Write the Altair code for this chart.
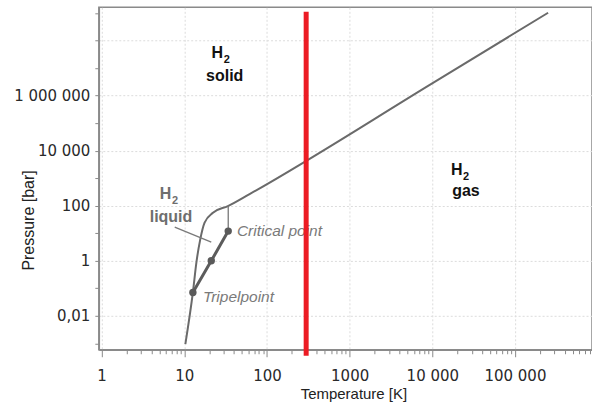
import math
import altair as alt
import pandas as pd

# ---------------- data ----------------
# sublimation / melting curve (gray line)
melt_T = [10.3, 12.7, 14.0, 15.6, 17.6, 22.2, 33.7, 61.6, 10090, 251800]
melt_P = [9.4e-4, 0.0705, 0.86, 6.0, 24.2, 55.7, 97, 265, 2.86e6, 1.03e9]
# vaporization curve (triple point -> boiling point -> critical point)
vap_T = [12.7, 21.2, 34.0]
vap_P = [0.0705, 1.0, 12.0]
# thin vertical line above the critical point
crit_T = [34.0, 34.0]
crit_P = [12.0, 100.0]
# leader line of the "liquid" label
lead_T = [7.66, 21.2]
lead_P = [16.8, 4.8]
# marked points
pt_T = [12.7, 21.2, 34.0]
pt_P = [0.0705, 1.0, 12.0]
# red room-temperature line
room_T = [298]
room_P_top = [1.12e9]
room_P_bottom = [3.55e-4]

# phase labels
phase_names = ["solid", "gas", "liquid"]
phase_colors = ["#111111", "#111111", "#6e6e6e"]
phase_H_T = [29.5, 23200, 6.98]
phase_H_P = [2.3e7, 1360, 169]
phase_name_T = [30.8, 25500, 6.9]
phase_name_P = [3.3e6, 223, 24.8]

# point labels
pt_label = ["Critical point", "Tripelpoint"]
pt_label_T = [43.3, 16.8]
pt_label_P = [7.7, 0.0321]

# axis ticks / labels
x_tick_label_vals = [1, 10, 100, 1000, 10000, 100000]
x_tick_label_txt = ["1", "10", "100", "1000", "10 000", "100 000"]
y_tick_label_vals = [0.01, 1, 100, 10000, 1000000]
y_tick_label_txt = ["0,01", "1", "100", "10 000", "1 000 000"]

x_domain = [0.925, 855000]
y_domain = [5.86e-4, 1.62e9]

# ---------------- chart ----------------
x_ticks = [k * 10 ** d for d in range(0, 6) for k in range(1, 10) if k * 10 ** d <= x_domain[1]]
y_ticks = [10.0 ** e for e in range(-3, 10)]


def label_expr(vals, txts):
    parts = [
        f"abs(log(datum.value)/LN10 - ({math.log10(v)})) < 0.01 ? '{t}'"
        for v, t in zip(vals, txts)
    ]
    return " : ".join(parts) + " : ''"


major_test = "abs(log(datum.value)/LN10 - round(log(datum.value)/LN10)) < 0.01"
even_test = "abs(round(log(datum.value)/LN10)) % 2 == 0"

x_axis = alt.Axis(
    values=x_ticks,
    labelExpr=label_expr(x_tick_label_vals, x_tick_label_txt),
    tickSize={"condition": {"test": major_test, "value": 7}, "value": 4},
    gridOpacity={"condition": {"test": major_test, "value": 1}, "value": 0},
    grid=True,
    labelOverlap=False,
    labelFlush=False,
    labelBaseline="alphabetic",
    labelPadding=24,
    title="Temperature [K]",
    titleX=255,
    titleY=49,
    titleBaseline="alphabetic",
    titleAlign="center",
    titleFontSize=15,
)
y_axis = alt.Axis(
    values=y_ticks,
    labelExpr=label_expr(y_tick_label_vals, y_tick_label_txt),
    tickSize=4,
    gridOpacity={"condition": {"test": even_test, "value": 1}, "value": 0},
    grid=True,
    labelOverlap=False,
    labelFlush=False,
    labelPadding=5,
    title="Pressure [bar]",
    titleX=-70,
    titleY=213,
    titleAngle=-90,
    titleBaseline="middle",
    titleAlign="center",
    titleFontSize=16,
)

xs = alt.Scale(type="log", domain=x_domain, nice=False)
ys = alt.Scale(type="log", domain=y_domain, nice=False)


def X():
    return alt.X("T:Q", scale=xs, axis=x_axis)


def Y():
    return alt.Y("P:Q", scale=ys, axis=y_axis)


def line_df(T, P):
    return pd.DataFrame({"T": T, "P": P, "o": list(range(len(T)))})


melt = alt.Chart(line_df(melt_T, melt_P)).mark_line(
    color="#6a6a6a", strokeWidth=2, interpolate="monotone"
).encode(x=X(), y=Y(), order="o:Q")

vap = alt.Chart(line_df(vap_T, vap_P)).mark_line(
    color="#5c5c5c", strokeWidth=3
).encode(x=X(), y=Y(), order="o:Q")

crit = alt.Chart(line_df(crit_T, crit_P)).mark_line(
    color="#777777", strokeWidth=1.3
).encode(x=X(), y=Y(), order="o:Q")

lead = alt.Chart(line_df(lead_T, lead_P)).mark_line(
    color="#7a7a7a", strokeWidth=1.3
).encode(x=X(), y=Y(), order="o:Q")

pts = alt.Chart(pd.DataFrame({"T": pt_T, "P": pt_P})).mark_circle(
    color="#5a5a5a", size=55, opacity=1
).encode(x=X(), y=Y())

red = alt.Chart(
    pd.DataFrame({"T": room_T, "P": room_P_top, "P2": room_P_bottom})
).mark_rule(color="#ec1c24", strokeWidth=5).encode(x=X(), y=Y(), y2="P2:Q")

hdf = pd.DataFrame({"T": phase_H_T, "P": phase_H_P, "c": phase_colors})
h_txt = alt.Chart(hdf).mark_text(
    text="H", align="right", baseline="alphabetic", font="Liberation Sans",
    fontWeight="bold", fontSize=16
).encode(x=X(), y=Y(), color=alt.Color("c:N", scale=None))
sub_txt = alt.Chart(hdf).mark_text(
    text="2", align="left", baseline="alphabetic", font="Liberation Sans",
    fontWeight="bold", fontSize=11, dy=5, dx=0.5
).encode(x=X(), y=Y(), color=alt.Color("c:N", scale=None))

ndf = pd.DataFrame({"T": phase_name_T, "P": phase_name_P, "c": phase_colors, "t": phase_names})
name_txt = alt.Chart(ndf).mark_text(
    align="center", baseline="alphabetic", font="Liberation Sans",
    fontWeight="bold", fontSize=16
).encode(x=X(), y=Y(), text="t:N", color=alt.Color("c:N", scale=None))

ldf = pd.DataFrame({"T": pt_label_T, "P": pt_label_P, "t": pt_label})
pt_txt = alt.Chart(ldf).mark_text(
    align="left", baseline="alphabetic", font="Liberation Sans",
    fontStyle="italic", fontSize=15.5, color="#7a7a7a"
).encode(x=X(), y=Y(), text="t:N")

chart = alt.layer(
    melt, vap, crit, lead, pts, pt_txt, red, h_txt, sub_txt, name_txt
).properties(
    width=494, height=343,
    padding={"left": 13, "top": 5, "right": 0, "bottom": 0},
    background="white",
).configure_view(
    stroke="#8a8a8a", strokeWidth=1.5
).configure_axis(
    domainColor="#8a8a8a", domainWidth=1.5,
    tickColor="#8a8a8a", tickWidth=1,
    gridColor="#dcdcdc", gridDash=[2, 2], gridWidth=1,
    labelFont="DejaVu Sans", labelFontSize=15, labelColor="#2a2a2a",
    titleFont="Liberation Sans", titleColor="#222222", titleFontWeight="normal",
)

chart.save("out.html", embed_options={"renderer": "svg", "actions": False})
